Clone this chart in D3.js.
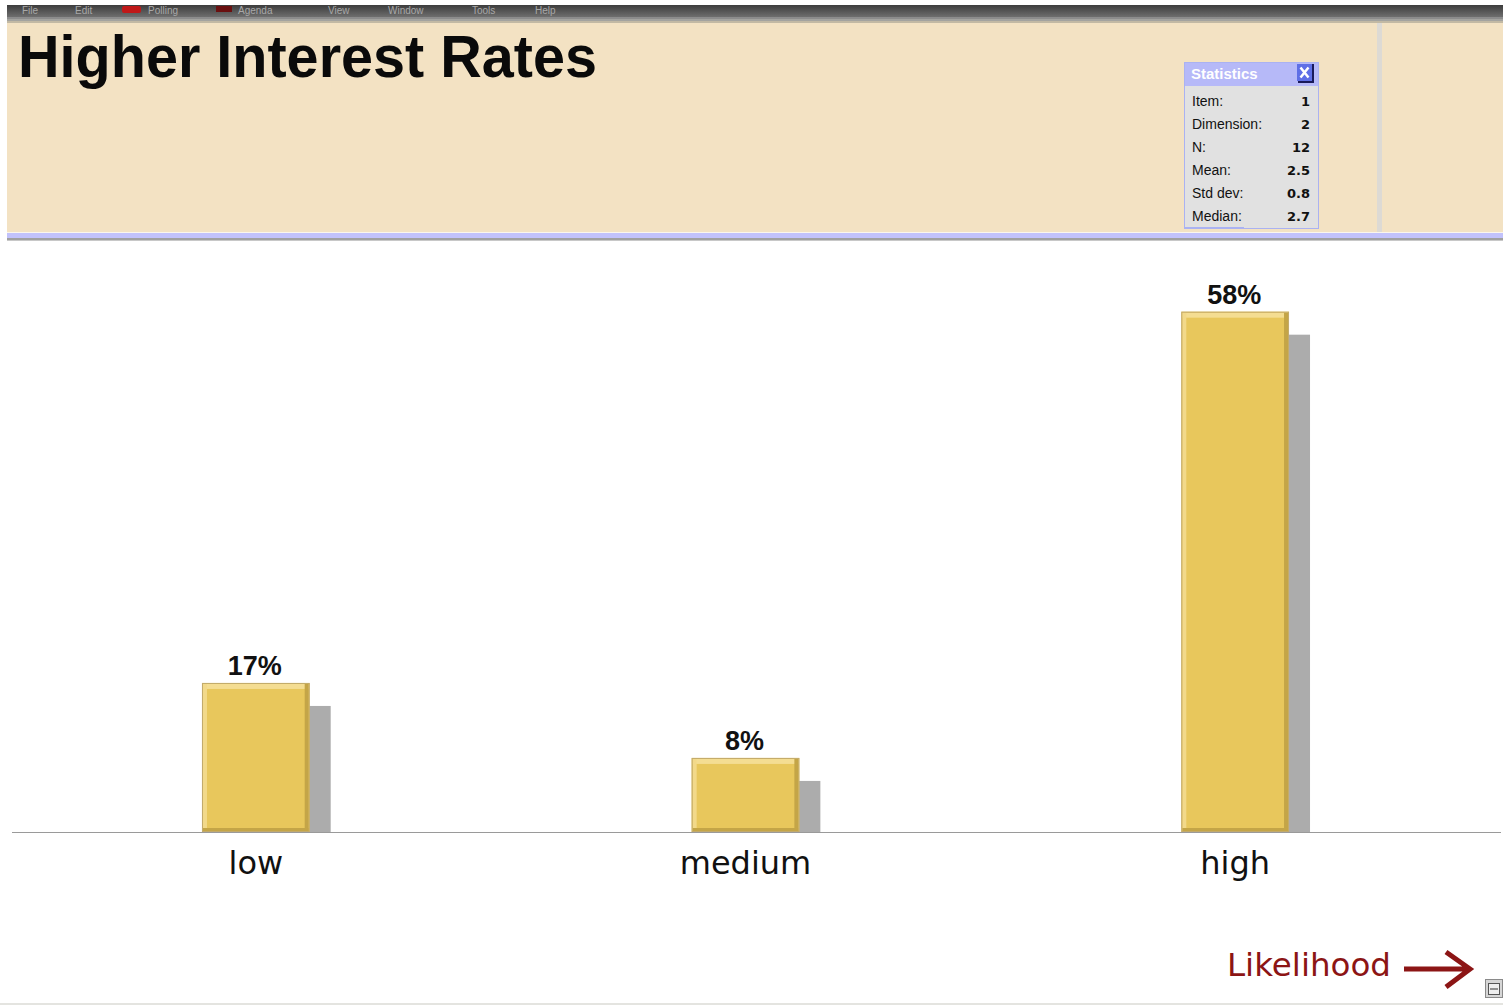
<!DOCTYPE html>
<html><head><meta charset="utf-8">
<script src="https://cdn.jsdelivr.net/npm/d3@7"></script>
<style>body{margin:0;background:#fff;overflow:hidden}svg{display:block}</style>
</head><body><svg id="c" width="1503" height="1007"></svg>
<script>
// ---- data ----
const categories = ["low", "medium", "high"];
const percentValues = [16.7, 8.3, 58.3];
const valueLabels = ["17%", "8%", "58%"];
const statLabels = ["Item:", "Dimension:", "N:", "Mean:", "Std dev:", "Median:"];
const statValues = ["1", "2", "12", "2.5", "0.8", "2.7"];
const menuItems = ["File", "Edit", "Polling", "Agenda", "View", "Window", "Tools", "Help"];
const menuX = [22, 75, 148, 238, 328, 388, 472, 535];
const chartTitle = "Higher Interest Rates";
const axisTitle = "Likelihood";

// ---- drawing ----
const svg = d3.select("#c");
const defs = svg.append("defs");
const g1 = defs.append("linearGradient").attr("id", "menuGrad").attr("x1", 0).attr("x2", 0).attr("y1", 0).attr("y2", 1);
g1.append("stop").attr("offset", 0).attr("stop-color", "#3c3c3c");
g1.append("stop").attr("offset", 1).attr("stop-color", "#6e6e6e");

// menu bar
svg.append("rect").attr("x", 7).attr("y", 5).attr("width", 1496).attr("height", 12).attr("fill", "url(#menuGrad)");
svg.append("rect").attr("x", 7).attr("y", 17).attr("width", 1496).attr("height", 2).attr("fill", "#8c8c8c");
svg.append("rect").attr("x", 7).attr("y", 19).attr("width", 1496).attr("height", 2).attr("fill", "#a3a39f");
svg.append("rect").attr("x", 7).attr("y", 21).attr("width", 1496).attr("height", 2).attr("fill", "#c2b9a4");
const menu = svg.append("g");
menu.selectAll("text").data(menuItems).join("text")
  .attr("x", (d, i) => menuX[i]).attr("y", 14)
  .attr("font-family", "Liberation Sans, sans-serif").attr("font-size", 10)
  .attr("fill", "#a8a8a8").text(d => d);
menu.append("rect").attr("x", 122).attr("y", 6).attr("width", 19).attr("height", 7).attr("rx", 2).attr("fill", "#c01818");
menu.append("rect").attr("x", 216).attr("y", 6).attr("width", 16).attr("height", 6).attr("fill", "#6a1010");

// header panel
svg.append("rect").attr("x", 7).attr("y", 23).attr("width", 1496).attr("height", 210).attr("fill", "#f3e2c3");
svg.append("rect").attr("x", 1377).attr("y", 23).attr("width", 5).attr("height", 209).attr("fill", "#dddad4");
svg.append("rect").attr("x", 7).attr("y", 232).attr("width", 1496).attr("height", 1).attr("fill", "#fbf6ec");
svg.append("rect").attr("x", 7).attr("y", 233).attr("width", 1496).attr("height", 5).attr("fill", "#c2c2fb");
svg.append("rect").attr("x", 7).attr("y", 238).attr("width", 1496).attr("height", 2).attr("fill", "#a0a0a0");
svg.append("rect").attr("x", 7).attr("y", 240).attr("width", 1496).attr("height", 1).attr("fill", "#c8c8c8");

svg.append("text").attr("x", 18).attr("y", 77)
  .attr("font-family", "Liberation Sans, Arial, sans-serif").attr("font-weight", "bold")
  .attr("font-size", 60).attr("textLength", 579).attr("lengthAdjust", "spacingAndGlyphs")
  .attr("fill", "#0a0a0a").text(chartTitle);

// statistics panel
const sp = svg.append("g");
sp.append("rect").attr("x", 1184.5).attr("y", 62.5).attr("width", 134).attr("height", 166).attr("fill", "#e1e1e1").attr("stroke", "#aab2f2");
sp.append("rect").attr("x", 1185).attr("y", 63).attr("width", 133).attr("height", 23).attr("fill", "#b6b9f8");
sp.append("text").attr("x", 1191).attr("y", 79).attr("font-family", "Liberation Sans, sans-serif")
  .attr("font-weight", "bold").attr("font-size", 15).attr("fill", "#fff").text("Statistics");
sp.append("rect").attr("x", 1298).attr("y", 64).attr("width", 16).attr("height", 19).attr("fill", "#1a1a5a");
sp.append("rect").attr("x", 1297).attr("y", 64).attr("width", 15).attr("height", 17).attr("fill", "#5f6fe6");
sp.append("path").attr("d", "M1300.5,67.5 L1308.5,77.5 M1308.5,67.5 L1300.5,77.5").attr("stroke", "#fff").attr("stroke-width", 2.5);
sp.selectAll("text.lab").data(statLabels).join("text").attr("class", "lab")
  .attr("x", 1192).attr("y", (d, i) => 106 + i * 23)
  .attr("font-family", "Liberation Sans, sans-serif").attr("font-size", 14).attr("fill", "#111").text(d => d);
sp.selectAll("text.val").data(statValues).join("text").attr("class", "val")
  .attr("x", 1310).attr("y", (d, i) => 106 + i * 23).attr("text-anchor", "end")
  .attr("font-family", "DejaVu Sans, sans-serif").attr("font-weight", "bold").attr("font-size", 13).attr("fill", "#111").text(d => d);
sp.append("rect").attr("x", 1184).attr("y", 227).attr("width", 60).attr("height", 2).attr("fill", "#aab2f2");

// chart
const baseY = 832;
const x = d3.scaleBand().domain(categories).range([11, 1480]).paddingInner(0.78).paddingOuter(0.39);
const y = d3.scaleLinear().domain([0, 60]).range([baseY, 296.5]);
const bw = x.bandwidth();
const data = categories.map((c, i) => ({ c, v: percentValues[i], lab: valueLabels[i] }));

// shadows
svg.append("g").selectAll("rect").data(data).join("rect")
  .attr("x", d => x(d.c) + 21).attr("y", d => y(d.v) + 23)
  .attr("width", bw).attr("height", d => baseY - y(d.v) - 23).attr("fill", "#acacac");

// bars
const bars = svg.append("g").selectAll("g").data(data).join("g");
bars.append("rect").attr("x", d => x(d.c)).attr("y", d => y(d.v))
  .attr("width", bw).attr("height", d => baseY - y(d.v)).attr("fill", "#e8c75c");
bars.append("rect").attr("x", d => x(d.c) + 1).attr("y", d => y(d.v) + 1)
  .attr("width", bw - 2).attr("height", 5).attr("fill", "#f4dd92");
bars.append("rect").attr("x", d => x(d.c) + 1).attr("y", d => y(d.v) + 1)
  .attr("width", 4).attr("height", d => baseY - y(d.v) - 2).attr("fill", "#f2d98a");
bars.append("rect").attr("x", d => x(d.c) + bw - 5).attr("y", d => y(d.v) + 1)
  .attr("width", 4).attr("height", d => baseY - y(d.v) - 2).attr("fill", "#c4a547");
bars.append("rect").attr("x", d => x(d.c) + 1).attr("y", baseY - 4)
  .attr("width", bw - 2).attr("height", 3).attr("fill", "#c4a547");
bars.append("rect").attr("x", d => x(d.c) + 0.5).attr("y", d => y(d.v) + 0.5)
  .attr("width", bw - 1).attr("height", d => baseY - y(d.v) - 1)
  .attr("fill", "none").attr("stroke", "#c2aa6c");

// value labels
svg.append("g").selectAll("text").data(data).join("text")
  .attr("x", d => x(d.c) + bw / 2 - 1).attr("y", d => y(d.v) - 8)
  .attr("text-anchor", "middle").attr("font-family", "Liberation Sans, sans-serif")
  .attr("font-weight", "bold").attr("font-size", 27).attr("fill", "#111").text(d => d.lab);

// baseline
svg.append("line").attr("x1", 12).attr("x2", 1501).attr("y1", baseY + 0.5).attr("y2", baseY + 0.5)
  .attr("stroke", "#9a9a9a").attr("stroke-width", 1.2);

// category axis
const ax = svg.append("g").attr("transform", `translate(0,${baseY})`)
  .call(d3.axisBottom(x).tickSize(0).tickPadding(19));
ax.select(".domain").remove();
ax.selectAll("text").attr("font-family", "DejaVu Sans, sans-serif").attr("font-size", 32).attr("fill", "#111");

// Likelihood arrow
svg.append("text").attr("x", 1227).attr("y", 976).attr("font-family", "DejaVu Sans, sans-serif")
  .attr("font-size", 32).attr("textLength", 164).attr("lengthAdjust", "spacingAndGlyphs")
  .attr("fill", "#8c1515").text(axisTitle);
svg.append("path").attr("d", "M1404,969 L1469,969 M1446,952 L1470,969 L1446,987")
  .attr("fill", "none").attr("stroke", "#8c1515").attr("stroke-width", 5).attr("stroke-linejoin", "miter");

// small icon
svg.append("rect").attr("x", 1485.5).attr("y", 979.5).attr("width", 17).attr("height", 18).attr("fill", "#d6d6d6").attr("stroke", "#8a8a8a");
svg.append("rect").attr("x", 1488.5).attr("y", 983.5).attr("width", 11).attr("height", 11).attr("fill", "#eee").attr("stroke", "#555");
svg.append("line").attr("x1", 1490).attr("x2", 1498).attr("y1", 989).attr("y2", 989).attr("stroke", "#333");

// bottom line
svg.append("rect").attr("x", 0).attr("y", 1003).attr("width", 1503).attr("height", 2).attr("fill", "#e4e4e0");
</script></body></html>
